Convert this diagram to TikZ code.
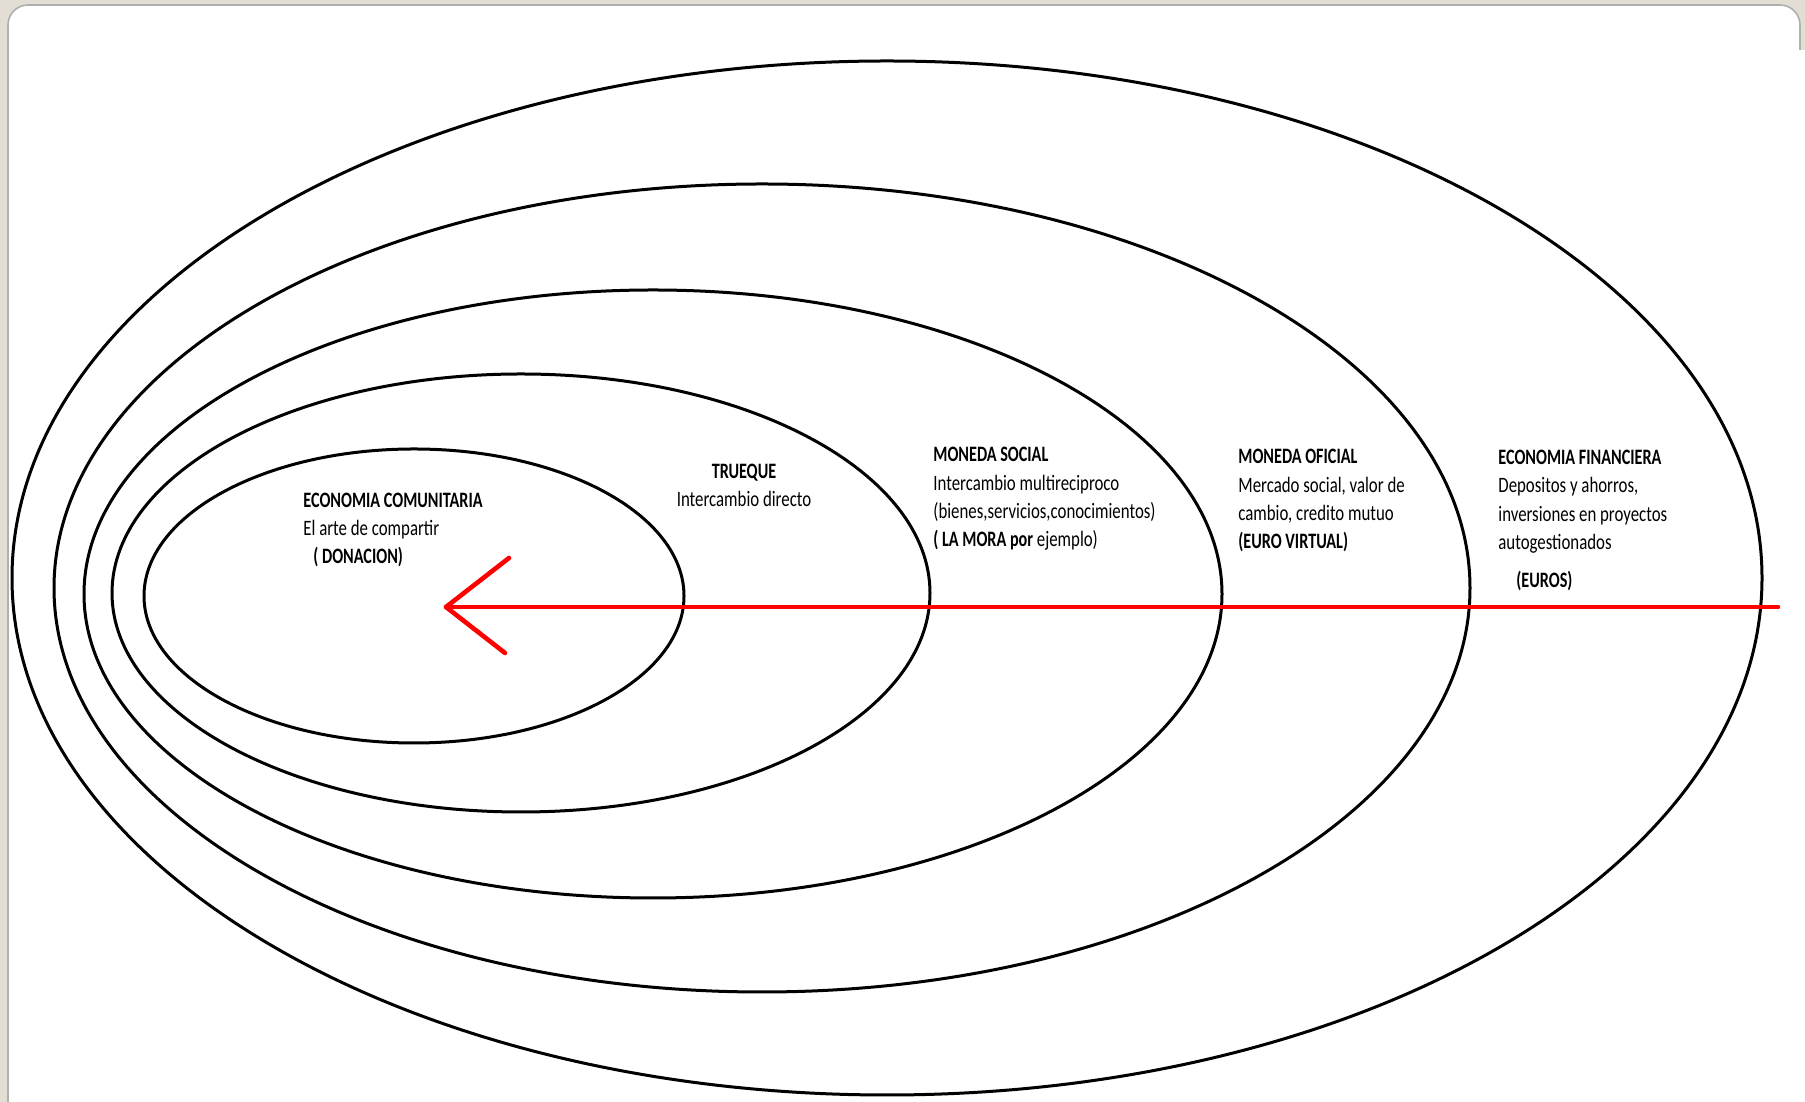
\documentclass[tikz,border=0pt]{standalone}
\usepackage{fontspec}
\setmainfont{Carlito}[FakeStretch=0.765,BoldFeatures={FakeStretch=0.735}]
\definecolor{marco}{RGB}{227,222,211}
\definecolor{borde}{RGB}{175,175,175}
\begin{document}
\begin{tikzpicture}[x=0.5pt,y=0.5pt,
    ring/.style={line width=1.5pt},
    flecha/.style={red,line width=2.3pt,line cap=round,line join=round},
    texto/.style={inner sep=0pt,anchor=base west,align=left,font=\fontsize{11pt}{14.2pt}\selectfont}]
    \useasboundingbox (0,0) rectangle (1805,1102);
    % fondo y panel
    \fill[marco] (0,0) rectangle (1805,1102);
    \filldraw[fill=white,draw=borde,line width=0.8pt,rounded corners=10pt] (8,-30) rectangle (1800,1097);
    \fill[white] (1797,0) rectangle (1805,1052);
    % anillos
    \draw[ring] (414,506) ellipse [x radius=270, y radius=147];
    \draw[ring] (521,509) ellipse [x radius=409, y radius=219];
    \draw[ring] (653,508) ellipse [x radius=569, y radius=304];
    \draw[ring] (762,514) ellipse [x radius=708, y radius=404];
    \draw[ring] (887,524) ellipse [x radius=875, y radius=517];
    % flecha
    \coordinate (tip) at (446,495);
    \coordinate (tail) at (1778,495);
    \coordinate (armU) at (509,544);
    \coordinate (armL) at (505,449);
    \draw[flecha] (tail) -- (tip);
    \draw[flecha] (armU) -- (tip) -- (armL);
    % textos (anclados en la linea de base de la ultima linea)
    \node[texto] (comunitaria) at (303,538) {\textbf{ECONOMIA COMUNITARIA}\\El arte de compartir\\\hspace*{5pt}\textbf{( DONACION)}};
    \node[texto,anchor=base,align=center] (trueque) at (744,595) {\textbf{TRUEQUE}\\Intercambio directo};
    \node[texto] (social) at (933,555) {\textbf{MONEDA SOCIAL}\\Intercambio multireciproco\\(bienes,servicios,conocimientos)\\\textbf{( LA MORA por} ejemplo)};
    \node[texto] (oficial) at (1238,553) {\textbf{MONEDA OFICIAL}\\Mercado social, valor de\\cambio, credito mutuo\\\textbf{(EURO VIRTUAL)}};
    \node[texto] (financiera) at (1498,514) {\textbf{ECONOMIA FINANCIERA}\\Depositos y ahorros,\\inversiones en proyectos\\autogestionados\\[5pt]\hspace*{9pt}\textbf{(EUROS)}};
\end{tikzpicture}
\end{document}
